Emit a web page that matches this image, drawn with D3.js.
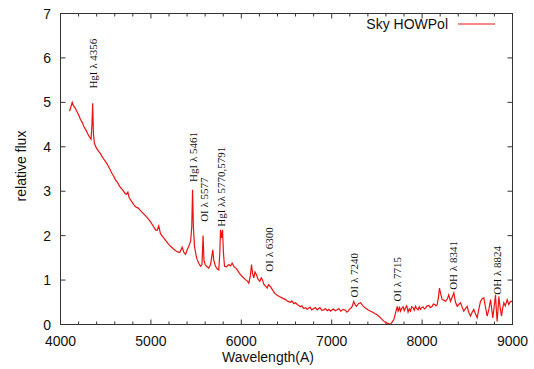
<!DOCTYPE html>
<html><head><meta charset="utf-8">
<script src="https://cdn.jsdelivr.net/npm/d3@7"></script>
<style>body{margin:0;background:#fff}svg{display:block}</style>
</head><body>
<svg id="c" width="534" height="369"></svg>
<script>
const wavelength = [4100,4115,4130,4145,4160,4180,4200,4220,4240,4260,4280,4300,4320,4338,4348,4356,4364,4375,4395,4420,4440,4460,4480,4500,4520,4545,4570,4590,4610,4630,4650,4670,4690,4715,4730,4745,4760,4790,4810,4830,4860,4890,4920,4950,4977,5000,5030,5051,5070,5087,5105,5130,5160,5190,5217,5250,5275,5291,5320,5346,5365,5383,5405,5419,5440,5452,5461,5470,5482,5500,5512,5530,5549,5565,5577,5587,5600,5620,5640,5660,5675,5685,5695,5715,5735,5751,5762,5770,5781,5792,5803,5814,5835,5862,5880,5899,5920,5940,5955,5980,6010,6046,6070,6083,6100,6113,6125,6138,6152,6168,6185,6205,6220,6231,6250,6270,6286,6300,6323,6345,6370,6397,6420,6450,6489,6515,6544,6560,6580,6600,6618,6635,6650,6670,6690,6710,6729,6745,6760,6780,6802,6820,6840,6855,6870,6890,6913,6930,6950,6970,6987,7005,7020,7040,7061,7080,7100,7125,7153,7165,7180,7195,7208,7225,7244,7260,7274,7295,7319,7345,7374,7400,7429,7460,7480,7503,7530,7559,7580,7600,7630,7650,7670,7687,7705,7725,7735,7742,7750,7761,7775,7790,7803,7816,7830,7845,7858,7872,7885,7900,7913,7927,7940,7955,7968,7982,7995,8010,8025,8038,8055,8075,8090,8112,8125,8140,8155,8167,8180,8192,8205,8222,8240,8259,8280,8295,8314,8330,8351,8370,8388,8405,8425,8445,8461,8480,8499,8515,8535,8555,8572,8590,8609,8628,8646,8665,8683,8700,8720,8740,8757,8770,8782,8800,8812,8822,8830,8840,8849,8862,8878,8890,8904,8920,8941,8959,8978,8996];
const flux = [4.80,4.90,5.00,4.92,4.88,4.80,4.72,4.62,4.55,4.45,4.38,4.30,4.22,4.17,4.50,4.98,4.30,4.08,3.98,3.90,3.85,3.78,3.72,3.66,3.60,3.50,3.40,3.33,3.25,3.20,3.12,3.07,3.02,2.95,2.93,2.98,2.85,2.76,2.70,2.65,2.62,2.55,2.49,2.43,2.36,2.30,2.20,2.13,2.12,2.22,2.05,1.98,1.90,1.82,1.76,1.70,1.66,1.64,1.62,1.74,1.62,1.58,1.70,1.76,1.88,2.20,3.03,2.20,1.76,1.55,1.46,1.38,1.31,1.35,2.00,1.45,1.35,1.30,1.27,1.35,1.55,1.68,1.45,1.31,1.25,1.23,1.60,2.13,1.95,2.13,1.60,1.31,1.30,1.35,1.32,1.38,1.30,1.27,1.23,1.15,1.08,1.01,0.97,0.93,1.10,1.35,1.15,1.05,1.18,1.12,1.02,0.97,1.05,1.02,0.90,0.86,0.82,0.90,0.85,0.78,0.70,0.66,0.63,0.60,0.56,0.52,0.50,0.53,0.47,0.49,0.45,0.43,0.40,0.42,0.36,0.38,0.34,0.37,0.39,0.33,0.36,0.38,0.33,0.36,0.38,0.32,0.33,0.36,0.31,0.34,0.30,0.33,0.35,0.31,0.33,0.36,0.30,0.34,0.32,0.28,0.29,0.34,0.36,0.40,0.52,0.44,0.41,0.47,0.49,0.42,0.37,0.33,0.30,0.27,0.24,0.22,0.17,0.11,0.07,0.04,0.02,0.00,0.06,0.11,0.25,0.41,0.30,0.33,0.40,0.30,0.36,0.40,0.31,0.37,0.42,0.28,0.35,0.30,0.40,0.38,0.32,0.41,0.36,0.33,0.40,0.34,0.38,0.40,0.35,0.37,0.42,0.43,0.38,0.41,0.46,0.45,0.42,0.45,0.60,0.82,0.70,0.56,0.55,0.52,0.58,0.67,0.52,0.60,0.71,0.50,0.41,0.45,0.49,0.38,0.30,0.36,0.41,0.28,0.19,0.28,0.34,0.24,0.15,0.35,0.52,0.58,0.60,0.40,0.19,0.35,0.56,0.35,0.15,0.45,0.67,0.30,0.07,0.35,0.63,0.40,0.19,0.35,0.49,0.42,0.56,0.45,0.52,0.52];
const lineLabels = ["HgI λ 4356","HgI λ 5461","OI λ 5577","HgI λλ 5770,5791","OI λ 6300","OI λ 7240","OI λ 7715","OH λ 8341","OH λ 8824"];
const lineWavelengths = [4356,5461,5577,5770,6300,7240,7715,8341,8824];
const lineLabelFlux = [5.31,3.21,2.31,2.20,1.19,0.61,0.52,0.78,0.67];
const xTicks = [4000,5000,6000,7000,8000,9000];
const yTicks = [0,1,2,3,4,5,6,7];
const seriesName = "Sky HOWPol";

const svg = d3.select("#c");
const L=60.5, R=512.5, T=13.5, B=324.5;
const x = d3.scaleLinear().domain([4000,9000]).range([L,R]);
const y = d3.scaleLinear().domain([0,7]).range([B,T]);
const sans = "'Liberation Sans', Arial, sans-serif";
const serif = "'Liberation Serif', 'Times New Roman', serif";

const minor = d3.range(4000,9001,200);
const g = svg.append("g").attr("stroke","#333").attr("stroke-width",1);
minor.forEach(v=>{
  const len = v%1000===0?5:3;
  g.append("line").attr("x1",x(v)).attr("x2",x(v)).attr("y1",B).attr("y2",B-len);
  g.append("line").attr("x1",x(v)).attr("x2",x(v)).attr("y1",T).attr("y2",T+len);
});
yTicks.forEach(v=>{
  g.append("line").attr("x1",L).attr("x2",L+5).attr("y1",y(v)).attr("y2",y(v));
  g.append("line").attr("x1",R).attr("x2",R-5).attr("y1",y(v)).attr("y2",y(v));
});

svg.append("g").selectAll("text").data(xTicks).join("text")
  .attr("x",d=>x(d)).attr("y",346).attr("text-anchor","middle")
  .attr("font-family",sans).attr("font-size",14).attr("fill","#111").text(d=>d);
svg.append("g").selectAll("text").data(yTicks).join("text")
  .attr("x",51).attr("y",d=>y(d)+5).attr("text-anchor","end")
  .attr("font-family",sans).attr("font-size",14).attr("fill","#111").text(d=>d);

svg.append("text").attr("x",268).attr("y",362).attr("text-anchor","middle")
  .attr("font-family",sans).attr("font-size",14).attr("fill","#111").text("Wavelength(A)");
svg.append("text").attr("transform","translate(26,166) rotate(-90)").attr("text-anchor","middle")
  .attr("font-family",sans).attr("font-size",14).attr("fill","#111").text("relative flux");

const pts = wavelength.map((w,i)=>[w,flux[i]]);
svg.append("path").datum(pts)
  .attr("d",d3.line().x(d=>x(d[0])).y(d=>y(d[1])))
  .attr("fill","none").attr("stroke","#ee1111").attr("stroke-width",1.2);

svg.append("g").selectAll("text").data(lineLabels).join("text")
  .attr("transform",(d,i)=>`translate(${x(lineWavelengths[i])+4.5},${y(lineLabelFlux[i])}) rotate(-90)`)
  .attr("font-family",serif).attr("font-size",11).attr("fill","#111").text(d=>d);

svg.append("rect").attr("x",L).attr("y",T).attr("width",R-L).attr("height",B-T)
  .attr("fill","none").attr("stroke","#333").attr("stroke-width",1);

svg.append("text").attr("x",448).attr("y",29).attr("text-anchor","end")
  .attr("font-family",sans).attr("font-size",14).attr("fill","#111").text(seriesName);
svg.append("line").attr("x1",458).attr("x2",495).attr("y1",24).attr("y2",24)
  .attr("stroke","#ee1111").attr("stroke-width",1);
</script>
</body></html>
